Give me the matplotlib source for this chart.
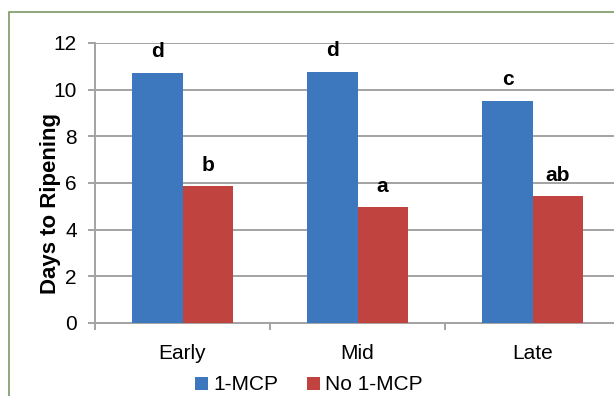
import numpy as np
import matplotlib.pyplot as plt
import matplotlib as mpl
from matplotlib.patches import Rectangle

mpl.rcParams['font.family'] = ['Liberation Sans', 'DejaVu Sans']

# data
stages = ['Early', 'Mid', 'Late']
mcp = [10.73, 10.77, 9.53]
no_mcp = [5.87, 4.97, 5.44]
mcp_letters = ['d', 'd', 'c']
no_mcp_letters = ['b', 'a', 'ab']
yticks = [0, 2, 4, 6, 8, 10, 12]

blue = '#3D78BE'
red = '#C0433F'
gray = '#A3A3A3'

fig = plt.figure(figsize=(6.14, 3.96), dpi=100)
ax = fig.add_axes([95/614, 1-323/396, 525/614, 280/396])

x = np.arange(len(stages))
w = 0.286
ax.bar(x - w/2, mcp, w, color=blue, label='1-MCP', zorder=3)
ax.bar(x + w/2, no_mcp, w, color=red, label='No 1-MCP', zorder=3)

for i in range(len(stages)):
    ax.text(x[i] - w/2, mcp[i] + 0.9, mcp_letters[i], ha='center', va='center',
            fontsize=15, fontweight='bold')
    ax.text(x[i] + w/2, no_mcp[i] + 0.9, no_mcp_letters[i], ha='center', va='center',
            fontsize=15, fontweight='bold')

ax.set_xlim(-0.5, 2.5)
ax.set_ylim(0, 12)
ax.set_yticks(yticks)
ax.yaxis.grid(True, color=gray, linewidth=1.4, zorder=0)
ax.set_axisbelow(True)

# category tick marks sit between the groups
ax.set_xticks([-0.5, 0.5, 1.5, 2.5])
ax.set_xticklabels([])
ax.set_xticks(x, minor=True)
ax.set_xticklabels(stages, minor=True, fontsize=15)
ax.tick_params(axis='x', which='minor', length=0, pad=15)
ax.tick_params(axis='x', which='major', length=5, color=gray, width=1.4)
ax.tick_params(axis='y', length=5, color=gray, width=1.4, labelsize=15, pad=8)

for s in ['top', 'right']:
    ax.spines[s].set_visible(False)
for s in ['left', 'bottom']:
    ax.spines[s].set_color(gray)
    ax.spines[s].set_linewidth(1.4)

ax.set_ylabel('Days to Ripening', fontsize=16, fontweight='bold')
ax.yaxis.set_label_coords(-0.064, 0.425)

leg = fig.legend(loc='center', bbox_to_anchor=(309/614, 1-385/396), ncol=2,
                 frameon=False, fontsize=15, handlelength=0.6, handleheight=0.6,
                 handletextpad=0.25, columnspacing=1.4, borderpad=0)

# greenish frame around the figure
fig.patches.append(Rectangle((9/614, -0.1), 1.2, 1-12/396 + 0.1, transform=fig.transFigure,
                             fill=False, edgecolor='#7A9A65', linewidth=1.2))

fig.savefig('out.png', dpi=100)
